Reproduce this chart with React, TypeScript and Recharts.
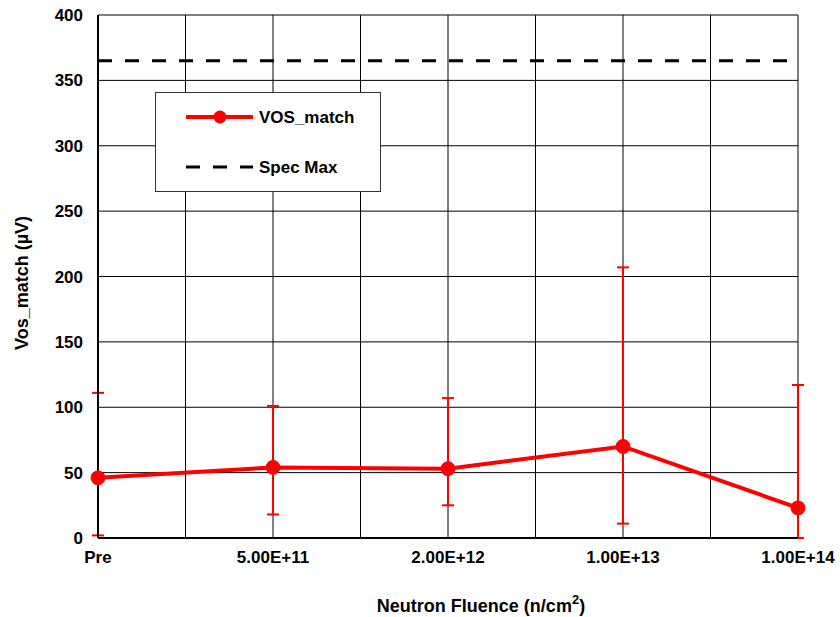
import React from "react";
import {
  LineChart, Line, XAxis, YAxis, CartesianGrid, ErrorBar, ReferenceLine,
} from "recharts";

const categories = ["Pre", "5.00E+11", "2.00E+12", "1.00E+13", "1.00E+14"];
const vosMatch = [46, 54, 53, 70, 23];
const errLow = [2, 18, 25, 11, 0];
const errHigh = [111, 101, 107, 207, 117];
const specMax = 365;
const yTicks = [0, 50, 100, 150, 200, 250, 300, 350, 400];
const xTicks = [0, 0.5, 1, 1.5, 2, 2.5, 3, 3.5, 4];

const data = categories.map((c, i) => ({
  x: i,
  name: c,
  vos: vosMatch[i],
  err: [vosMatch[i] - errLow[i], errHigh[i] - vosMatch[i]],
}));

const font = "'Liberation Sans', Arial, sans-serif";

function LegendBox() {
  return (
    <div
      style={{
        position: "absolute", left: 155, top: 92,
        width: 226, height: 100, border: "1px solid #333", background: "#fff",
        fontFamily: font, fontWeight: 700, fontSize: 17, boxSizing: "border-box",
      }}
    >
      <svg width={224} height={98} style={{ display: "block" }}>
        <line x1={30} y1={24} x2={97} y2={24} stroke="#ff0000" strokeWidth={4} />
        <circle cx={64} cy={24} r={6.5} fill="#ff0000" />
        <text x={103} y={30} fill="#000">VOS_match</text>
        <line x1={30} y1={74} x2={97} y2={74} stroke="#000" strokeWidth={3} strokeDasharray="14 13" />
        <text x={103} y={80} fill="#000">Spec Max</text>
      </svg>
    </div>
  );
}

export default function App() {
  return (
    <div style={{ position: "absolute", left: 0, top: 0, width: 840, height: 617 }}>
      <LineChart
        width={840}
        height={617}
        data={data}
        margin={{ top: 15, right: 42, bottom: 49, left: 0 }}
      >
        <CartesianGrid stroke="#000" strokeWidth={1} horizontal vertical />
        <XAxis
          dataKey="x"
          type="number"
          domain={[0, 4]}
          ticks={xTicks}
          interval={0}
          tickFormatter={(v: number) => (Number.isInteger(v) ? categories[v] : "")}
          tickLine={false}
          tickSize={0}
          tickMargin={13}
          height={30}
          axisLine={{ stroke: "#000", strokeWidth: 2 }}
          tick={{ fill: "#000", fontSize: 17, fontWeight: 700, fontFamily: font }}
          label={{
            content: () => (
              <text x={481} y={612} textAnchor="middle" fontFamily={font} fontWeight={700} fontSize={18} fill="#000">
                Neutron Fluence (n/cm<tspan dy={-8} fontSize={13}>2</tspan><tspan dy={8}>)</tspan>
              </text>
            ),
          }}
        />
        <YAxis
          type="number"
          domain={[0, 400]}
          ticks={yTicks}
          width={98}
          tickLine={false}
          tickSize={0}
          tickMargin={15}
          axisLine={{ stroke: "#000", strokeWidth: 2 }}
          tick={{ fill: "#000", fontSize: 17, fontWeight: 700, fontFamily: font }}
          label={{
            content: () => (
              <text
                x={28}
                y={283}
                transform="rotate(-90 28 283)"
                textAnchor="middle"
                fontFamily={font}
                fontWeight={700}
                fontSize={18}
                fill="#000"
              >
                {"Vos_match (\u00b5V)"}
              </text>
            ),
          }}
        />
        <ReferenceLine
          y={specMax}
          stroke="#000"
          strokeWidth={3}
          strokeDasharray="14 13"
        />
        <Line
          dataKey="vos"
          name="VOS_match"
          stroke="#ff0000"
          strokeWidth={4}
          dot={{ r: 7, fill: "#ff0000", stroke: "#ff0000", strokeWidth: 1 }}
          activeDot={false}
          isAnimationActive={false}
        >
          <ErrorBar dataKey="err" direction="y" width={6} stroke="#ff0000" strokeWidth={2} />
        </Line>
      </LineChart>
      <LegendBox />
    </div>
  );
}
